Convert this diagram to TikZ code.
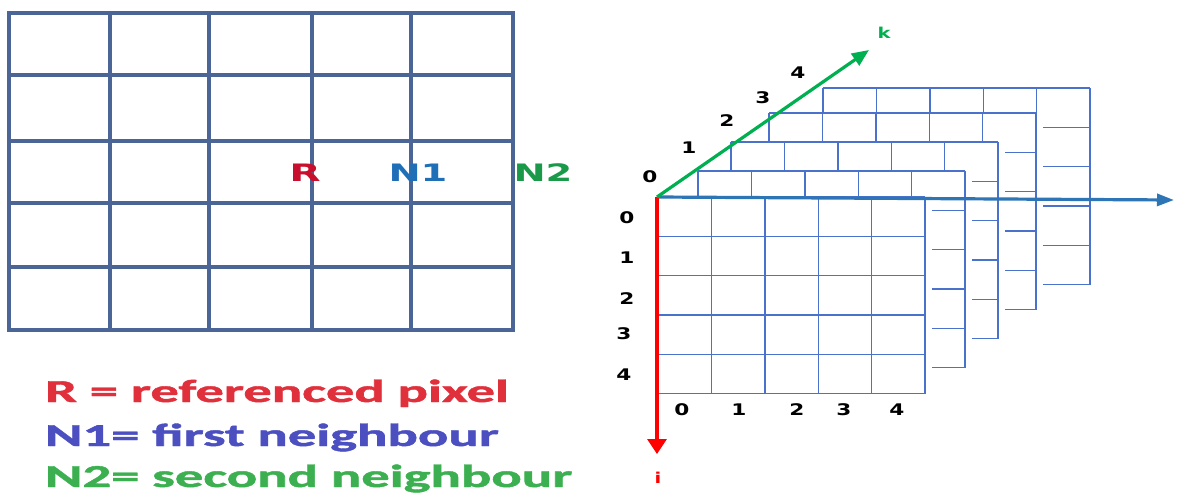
\documentclass[tikz,border=0pt]{standalone}
\usepackage{fontspec}
\newfontfamily\dvs{DejaVu Sans}
\newfontfamily\carl{Carlito}[BoldFeatures={FakeBold=1.2}]
\usetikzlibrary{arrows.meta}
\definecolor{lgrid}{HTML}{4B6596}
\definecolor{rgrid}{HTML}{4A72CC}
\definecolor{axk}{HTML}{00B050}
\definecolor{axi}{HTML}{FF0000}
\definecolor{axj}{HTML}{2E75B6}
\definecolor{legR}{HTML}{E0303C}
\definecolor{legN1}{HTML}{4B4FC0}
\definecolor{legN2}{HTML}{3CB050}
\definecolor{labR}{HTML}{C8102E}
\definecolor{labN1}{HTML}{1F6FB8}
\definecolor{labN2}{HTML}{1A9A48}
\newcommand{\wideT}[2]{\scalebox{#1}[1]{#2}}
\tikzset{
  digit/.style={inner sep=0pt, font=\dvs\bfseries\fontsize{16}{16}\selectfont, text=black},
  celllab/.style={inner sep=0pt, font=\dvs\bfseries\fontsize{24}{24}\selectfont},
  legend/.style={inner sep=0pt, anchor=base west, font=\carl\bfseries\fontsize{32}{32}\selectfont},
  axis/.style={line width=3.2pt},
}
\begin{document}
\begin{tikzpicture}[x=1pt,y=-1pt]
\useasboundingbox (0,0) rectangle (1199,493);
% ---------- left grid ----------
\foreach \xx in {9,110,209,312,411,513}
  \draw[lgrid, line width=3.2pt, line cap=rect] (\xx,13) -- (\xx,330);
\foreach \yy in {13,75,141,203,267,330}
  \draw[lgrid, line width=3.2pt, line cap=rect] (9,\yy) -- (513,\yy);
\node[celllab, text=labR] (R) at (305,173) {\wideT{1.7}{R}};
\node[celllab, text=labN1] (N1) at (418,173) {\wideT{1.6}{N1}};
\node[celllab, text=labN2] (N2) at (543,173) {\wideT{1.6}{N2}};
% ---------- legend ----------
\node[legend, text=legR] (legr) at (45,402) {\wideT{1.77}{R = referenced pixel}};
\node[legend, text=legN1] (legn1) at (45,446) {\wideT{1.77}{N1= first neighbour}};
\node[legend, text=legN2] (legn2) at (45,487) {\wideT{1.77}{N2= second neighbour}};
% ---------- stacked layers ----------
\foreach \lx/\ly in {823/88, 769/113, 731/142, 698/171, 658/197}{
  \fill[white] (\lx,\ly) rectangle ++(274,196.5);
  \foreach \c in {0,...,5}{
    \draw[rgrid, line width=1.4pt] ({\lx+\c*53.4},\ly) -- ++(0,196.5);
    \draw[rgrid, line width=1.4pt] (\lx,{\ly+\c*39.3}) -- ++(267,0);
  }
}
% ---------- axes ----------
\coordinate (O) at (657,197);
\coordinate (jend) at (1174,200);
\coordinate (iend) at (657,454);
\coordinate (kend) at (869,50);
\draw[axis, axj, -{Triangle[length=17pt,width=12pt]}] (O) -- (jend);
\draw[axis, axi, -{Triangle[length=15pt,width=19pt]}] (O) -- (iend);
\draw[axis, axk, -{Triangle[length=17pt,width=14pt]}] (O) -- (kend);
\node[inner sep=0pt, font=\dvs\bfseries\fontsize{15}{15}\selectfont, text=axk] (klab) at (884,33) {\wideT{1.3}{k}};
\node[inner sep=0pt, font=\dvs\bfseries\fontsize{15}{15}\selectfont, text=axi] (ilab) at (658,478) {\wideT{1.3}{i}};
% k-axis digits
\node[digit] (k0) at (650,177) {\wideT{1.35}{0}};
\node[digit] (k1) at (689,148) {\wideT{1.35}{1}};
\node[digit] (k2) at (727,121) {\wideT{1.35}{2}};
\node[digit] (k3) at (763,98) {\wideT{1.35}{3}};
\node[digit] (k4) at (798,73) {\wideT{1.35}{4}};
% i-axis digits
\node[digit] (i0) at (627,218) {\wideT{1.35}{0}};
\node[digit] (i1) at (627,258) {\wideT{1.35}{1}};
\node[digit] (i2) at (627,299) {\wideT{1.35}{2}};
\node[digit] (i3) at (624,334) {\wideT{1.35}{3}};
\node[digit] (i4) at (624,375) {\wideT{1.35}{4}};
% j-axis digits
\node[digit] (j0) at (682,410) {\wideT{1.35}{0}};
\node[digit] (j1) at (739,410) {\wideT{1.35}{1}};
\node[digit] (j2) at (797,410) {\wideT{1.35}{2}};
\node[digit] (j3) at (844,410) {\wideT{1.35}{3}};
\node[digit] (j4) at (897,410) {\wideT{1.35}{4}};
\end{tikzpicture}
\end{document}
